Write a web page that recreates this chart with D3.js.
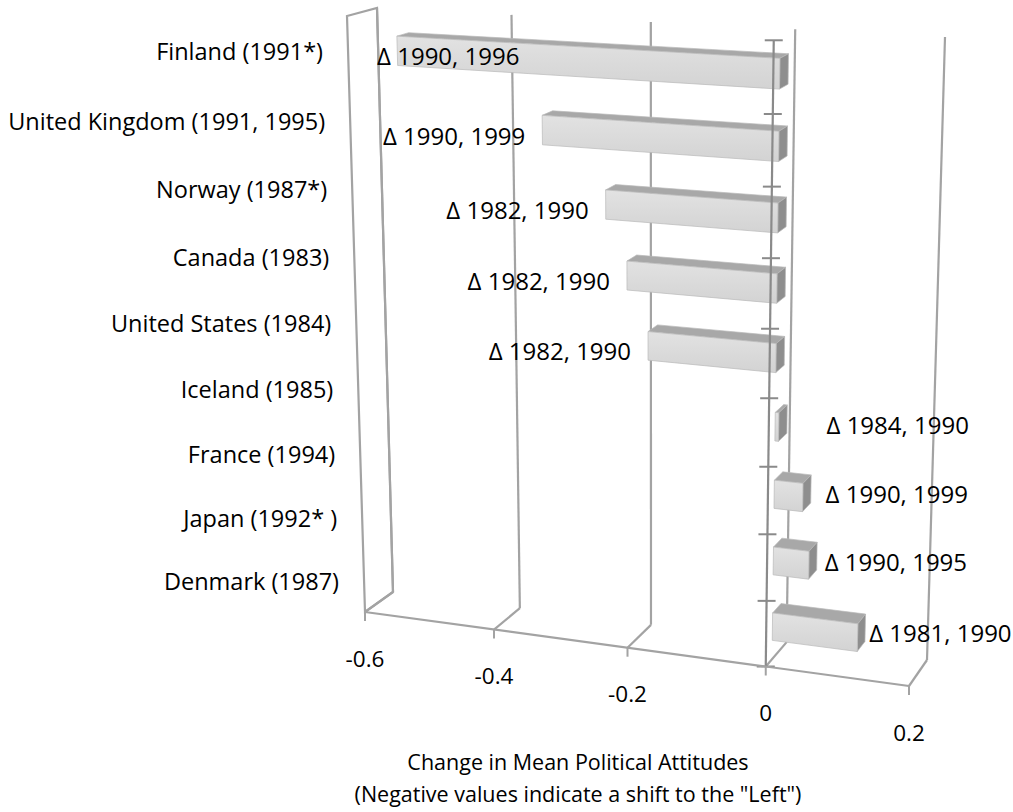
<!DOCTYPE html>
<html>
<head>
<meta charset="utf-8">
<script src="https://cdn.jsdelivr.net/npm/d3@7"></script>
<style>
  body { margin: 0; background: #fff; }
  text { font-family: "Open Sans", sans-serif; fill: #000; }
</style>
</head>
<body>
<svg id="chart" width="1013" height="812"></svg>
<script>
// data
const categories = ["Finland (1991*)", "United Kingdom (1991, 1995)", "Norway (1987*)", "Canada (1983)",
  "United States (1984)", "Iceland (1985)", "France (1994)", "Japan (1992* )", "Denmark (1987)"];
const changes = [-0.54, -0.33, -0.24, -0.21, -0.18, 0.005, 0.04, 0.05, 0.12];
const waves = ["Δ 1990, 1996", "Δ 1990, 1999", "Δ 1982, 1990", "Δ 1982, 1990", "Δ 1982, 1990",
  "Δ 1984, 1990", "Δ 1990, 1999", "Δ 1990, 1995", "Δ 1981, 1990"];
const valueTicks = [-0.6, -0.4, -0.2, 0, 0.2];
const tickLabels = ["-0.6", "-0.4", "-0.2", "0", "0.2"];
const axisTitle = ["Change in Mean Political Attitudes", "(Negative values indicate a shift to the \"Left\")"];

const svg = d3.select("#chart");

// unit square -> screen quad (Heckbert), used for the front and back planes of the 3D box
function squareToQuad(p) {
  const [x0, y0] = p[0], [x1, y1] = p[1], [x2, y2] = p[2], [x3, y3] = p[3];
  const dx1 = x1 - x2, dx2 = x3 - x2, dy1 = y1 - y2, dy2 = y3 - y2;
  const sx = x0 - x1 + x2 - x3, sy = y0 - y1 + y2 - y3;
  const den = dx1 * dy2 - dx2 * dy1;
  const g = (sx * dy2 - dx2 * sy) / den;
  const h = (dx1 * sy - sx * dy1) / den;
  const a = x1 - x0 + g * x1, b = x3 - x0 + h * x3, c = x0;
  const d = y1 - y0 + g * y1, e = y3 - y0 + h * y3, f = y0;
  return (u, v) => {
    const w = g * u + h * v + 1;
    return [(a * u + b * v + c) / w, (d * u + e * v + f) / w];
  };
}

// corners: (u,v) = (0,0), (1,0), (1,1), (0,1)
const front = squareToQuad([[365, 612], [909, 686], [927, 49], [347, 16]]);
const back = squareToQuad([[393, 592], [927, 660], [945, 37], [377, 8]]);

function project(u, v, z) {
  const p = front(u, v), q = back(u, v);
  return [p[0] + (q[0] - p[0]) * z, p[1] + (q[1] - p[1]) * z];
}

const x = d3.scaleLinear().domain([-0.6, 0.2]).range([0, 1]);
const yCat = d3.scaleBand().domain(categories).range([1, 0]);
const y = d3.scaleBand().domain(categories).range([1, 0]).paddingInner(0.58).paddingOuter(0.29);
const z0 = 0.3, z1 = 0.7;

const line = d3.line();
const gridColor = "#a3a3a3";

// left side wall
const wall = [project(0, 0, 0), project(0, 1, 0), project(0, 1, 1), project(0, 0, 1)];
svg.append("path")
  .attr("d", line(wall) + "Z")
  .attr("fill", "none")
  .attr("stroke", gridColor)
  .attr("stroke-width", 2.2);

// back wall gridlines and floor gridlines
const grid = svg.append("g").attr("stroke", gridColor).attr("stroke-width", 2.2).attr("fill", "none");
valueTicks.forEach(t => {
  grid.append("path").attr("d", line([project(x(t), 0, 1), project(x(t), 1, 1)]));
  grid.append("path").attr("d", line([project(x(t), 0, 0), project(x(t), 0, 1)]));
});

// bars as boxes
const defs = svg.append("defs");
const grad = defs.append("linearGradient").attr("id", "faceGrad").attr("x1", 0).attr("y1", 0).attr("x2", 0).attr("y2", 1);
grad.append("stop").attr("offset", "0%").attr("stop-color", "#e2e2e2");
grad.append("stop").attr("offset", "100%").attr("stop-color", "#d3d3d3");

const bars = svg.append("g");
categories.forEach((c, i) => {
  const val = changes[i];
  const ua = x(Math.min(0, val)), ub = x(Math.max(0, val));
  const va = y(c), vb = y(c) + y.bandwidth();
  const g = bars.append("g").attr("stroke", "#b9b9b9").attr("stroke-width", 0.7).attr("stroke-linejoin", "round");
  g.append("path")
    .attr("d", line([project(ua, vb, z0), project(ub, vb, z0), project(ub, vb, z1), project(ua, vb, z1)]) + "Z")
    .attr("fill", "#a8a8a8");
  g.append("path")
    .attr("d", line([project(ub, va, z0), project(ub, vb, z0), project(ub, vb, z1), project(ub, va, z1)]) + "Z")
    .attr("fill", "#8e8e8e");
  g.append("path")
    .attr("d", line([project(ua, va, z0), project(ub, va, z0), project(ub, vb, z0), project(ua, vb, z0)]) + "Z")
    .attr("fill", "url(#faceGrad)");
});

// vertical category axis at value 0 on the front plane
const axisColor = "#8a8a8a";
const u0 = x(0);
svg.append("path")
  .attr("d", line([project(u0, 0, 0), project(u0, 1, 0)]))
  .attr("stroke", axisColor).attr("stroke-width", 2.2).attr("fill", "none");
const bounds = categories.map(c => yCat(c) + yCat.bandwidth()).concat([0]);
bounds.forEach(v => {
  const [px, py] = project(u0, v, 0);
  svg.append("path")
    .attr("d", line([[px - 9, py], [px + 9, py]]))
    .attr("stroke", axisColor).attr("stroke-width", 2);
});

// value axis along the front of the floor
svg.append("path")
  .attr("d", line([project(0, 0, 0), project(1, 0, 0)]))
  .attr("stroke", gridColor).attr("stroke-width", 2.2).attr("fill", "none");
valueTicks.forEach((t, i) => {
  const [px, py] = project(x(t), 0, 0);
  svg.append("path")
    .attr("d", line([[px, py], [px, py + 9]]))
    .attr("stroke", gridColor).attr("stroke-width", 2);
  svg.append("text")
    .attr("x", px).attr("y", py + 46)
    .attr("text-anchor", "middle")
    .attr("dominant-baseline", "central")
    .attr("font-size", 22.5)
    .text(tickLabels[i]);
});

// category labels, right edge follows the slant of the side wall
categories.forEach(c => {
  const [px, py] = project(0, yCat(c) + yCat.bandwidth() / 2, 0);
  svg.append("text")
    .attr("x", px - 25).attr("y", py)
    .attr("text-anchor", "end")
    .attr("dominant-baseline", "central")
    .attr("font-size", 23.5)
    .text(c);
});

// data labels
categories.forEach((c, i) => {
  const val = changes[i];
  const vc = y(c) + y.bandwidth() / 2;
  const t = svg.append("text")
    .attr("dominant-baseline", "central")
    .attr("font-size", 24)
    .text(waves[i]);
  if (val < 0) {
    const [ex, ey] = project(x(val), vc, z0);
    const w = t.node().getComputedTextLength();
    const minStart = project(0, vc, 0)[0] + 29;
    const start = Math.max(ex - 17 - w, minStart);
    t.attr("x", start).attr("y", ey + 5);
  } else {
    const [ex, ey] = project(x(val), vc, z1);
    const zx = project(u0, vc, z1)[0];
    t.attr("x", Math.max(ex + 4, zx + 43)).attr("y", ey + 5);
  }
});

// axis title
axisTitle.forEach((s, i) => {
  svg.append("text")
    .attr("x", 578).attr("y", 761 + i * 32)
    .attr("text-anchor", "middle")
    .attr("dominant-baseline", "central")
    .attr("font-size", 21.5)
    .text(s);
});
</script>
</body>
</html>
